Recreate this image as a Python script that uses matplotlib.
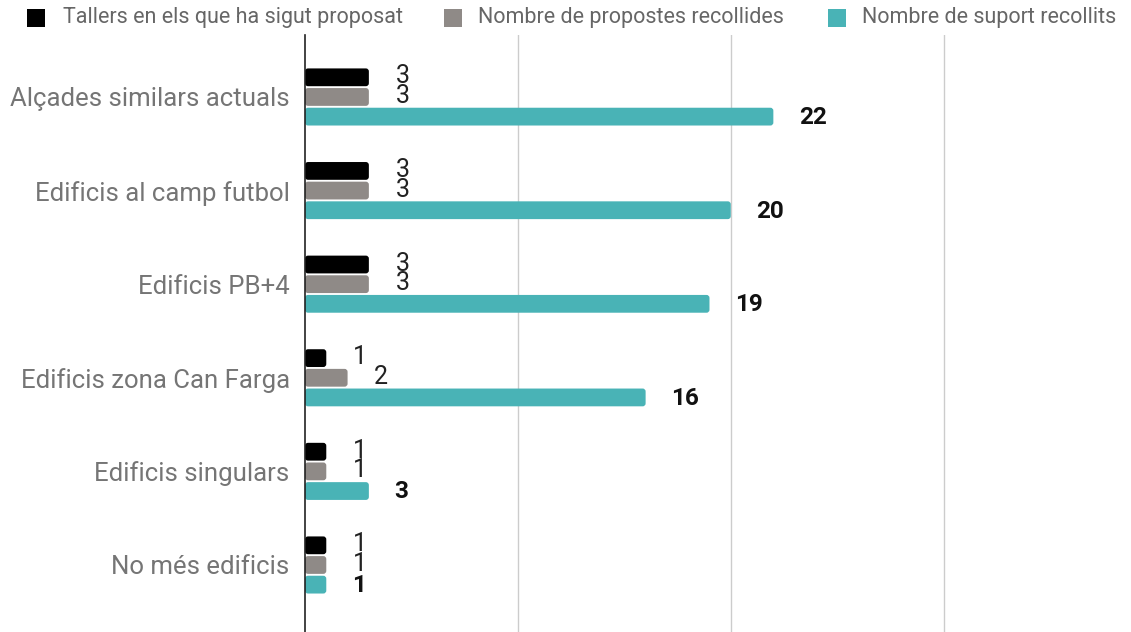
import matplotlib
matplotlib.use("Agg")
import matplotlib.pyplot as plt
from matplotlib.patches import FancyBboxPatch, Rectangle
import numpy as np

categories = ["Alçades similars actuals", "Edificis al camp futbol", "Edificis PB+4",
              "Edificis zona Can Farga", "Edificis singulars", "No més edificis"]
tallers = [3, 3, 3, 1, 1, 1]
propostes = [3, 3, 3, 2, 1, 1]
suports = [22, 20, 19, 16, 3, 1]
series_names = ["Tallers en els que ha sigut proposat", "Nombre de propostes recollides",
                "Nombre de suport recollits"]
colors = ["#000000", "#8f8a87", "#49b3b6"]

plt.rcParams['font.family'] = ['Roboto', 'DejaVu Sans']

W, H = 1131, 632
fig = plt.figure(figsize=(W / 100, H / 100), dpi=100)
ax = fig.add_axes([305 / W, 0, (W - 305) / W, 1 - 35 / H])

n = len(categories)
y = np.arange(n)
h = 0.19
step = 0.21
offs = [-step, 0, step]
data = [tallers, propostes, suports]
xmax = 38.8
ymin, ymax = 5.716, -0.662
ax.set_ylim(ymin, ymax)
ax.set_xlim(0, xmax)

# pixel -> data conversions for rounding
px_x = xmax / (W - 305)
px_y = abs(ymin - ymax) / (H - 35)
r = 3 * px_x
aspect = px_y / px_x

for i, (vals, c, name) in enumerate(zip(data, colors, series_names)):
    bars = ax.barh(y + offs[i], vals, height=h, color=c, label=name)
    for b in bars:
        b.set_visible(False)
        x0, y0 = b.get_x(), b.get_y()
        w, hh = b.get_width(), b.get_height()
        p = FancyBboxPatch((x0, y0), w, hh,
                           boxstyle=f"round,pad=0,rounding_size={r}",
                           mutation_aspect=aspect, facecolor=c, edgecolor='none', zorder=2)
        ax.add_patch(p)
    for yy, v in zip(y + offs[i], vals):
        if i < 2:
            ax.text(v + 1.25, yy - 0.01, str(v), va='center', ha='left', fontsize=18,
                    color='#222222', zorder=3)
        else:
            ax.text(v + 1.2, yy + 0.01, str(v), va='center', ha='left', fontsize=17.5,
                    fontweight='bold', color='#111111', zorder=3)

ax.set_xticks([10, 20, 30])
ax.xaxis.grid(True, color='#cccccc', linewidth=1)
ax.set_axisbelow(True)
ax.tick_params(axis='x', length=0, labelbottom=False)
ax.set_yticks(y)
ax.set_yticklabels(categories, fontsize=18.5, color='#757575')
ax.tick_params(axis='y', length=0, pad=11)
for s in ['top', 'right', 'bottom']:
    ax.spines[s].set_visible(False)
ax.spines['left'].set_color('#222222')
ax.spines['left'].set_linewidth(1.2)
ax.spines['left'].set_zorder(4)

# legend placed manually to match reference positions
sq_x = [27, 444, 828]
txt_x = [63, 478, 862]
sq = 18
cy = 18
for sx, tx, c, name in zip(sq_x, txt_x, colors, series_names):
    fig.patches.append(Rectangle((sx / W, 1 - (cy + sq / 2) / H), sq / W, sq / H,
                                 transform=fig.transFigure, facecolor=c, edgecolor='none'))
    fig.text(tx / W, 1 - cy / H, name, ha='left', va='center', fontsize=15.5, color='#666666')

fig.savefig("out.png", dpi=100)
